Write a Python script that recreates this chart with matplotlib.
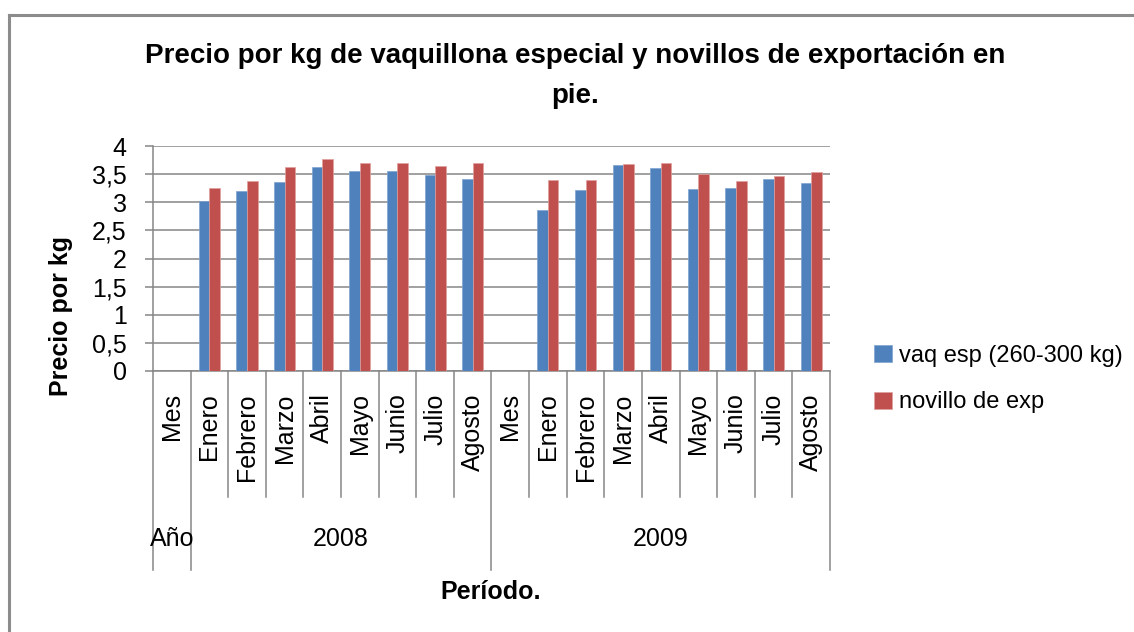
import numpy as np
import matplotlib
matplotlib.use("Agg")
from matplotlib import pyplot as plt
from matplotlib import rcParams
from matplotlib.lines import Line2D
import matplotlib.transforms as mtransforms

# data
meses = ["Mes", "Enero", "Febrero", "Marzo", "Abril", "Mayo", "Junio", "Julio", "Agosto",
         "Mes", "Enero", "Febrero", "Marzo", "Abril", "Mayo", "Junio", "Julio", "Agosto"]
anios = ["Año", "2008", "2009"]
anio_span = [(0, 0), (1, 8), (9, 17)]
vaq_esp = [np.nan, 3.02, 3.20, 3.36, 3.62, 3.55, 3.55, 3.49, 3.41,
           np.nan, 2.86, 3.21, 3.67, 3.61, 3.24, 3.26, 3.42, 3.34]
novillo = [np.nan, 3.26, 3.37, 3.62, 3.77, 3.69, 3.69, 3.64, 3.69,
           np.nan, 3.40, 3.40, 3.68, 3.70, 3.51, 3.38, 3.46, 3.54]
yticks = [0, 0.5, 1, 1.5, 2, 2.5, 3, 3.5, 4]

rcParams["font.family"] = ["Liberation Sans", "DejaVu Sans"]
rcParams["font.size"] = 16

grey = "#868686"
blue = "#4F81BD"
red = "#C0504D"

fig = plt.figure(figsize=(11.34, 6.32), dpi=100)
ax = fig.add_axes([153 / 1134, 1 - 371 / 632, 677 / 1134, 225 / 632])

x = np.arange(len(meses))
w = 0.28
ax.bar(x - w / 2, vaq_esp, width=w, color=blue, edgecolor="#7fa3d0", linewidth=0.5,
       label="vaq esp (260-300 kg)", zorder=3)
ax.bar(x + w / 2, novillo, width=w, color=red, edgecolor="#e0a09e", linewidth=0.5,
       label="novillo de exp", zorder=3)

ax.set_xlim(-0.5, len(meses) - 0.5)
ax.set_ylim(0, 4)
ax.set_yticks(yticks)
ax.set_yticklabels([f"{t:g}".replace(".", ",") for t in yticks])
ax.yaxis.grid(True, color=grey, linewidth=1.1, zorder=0)
ax.tick_params(axis="y", length=6, width=1.1, color=grey, pad=13, labelsize=18)
for s in ["top", "right"]:
    ax.spines[s].set_visible(False)
for s in ["left", "bottom"]:
    ax.spines[s].set_color(grey)
    ax.spines[s].set_linewidth(1.1)

ax.set_xticks(x)
ax.set_xticklabels(meses, rotation=90, va="top", ha="center", fontsize=18)
ax.tick_params(axis="x", length=0, pad=16)

# separators of the hierarchical category axis
trans = mtransforms.blended_transform_factory(ax.transData, ax.transAxes)
long_seps = [-0.5, 0.5, 8.5, 17.5]
for b in np.arange(-0.5, len(meses), 1.0):
    yb = -0.885 if b in long_seps else -0.56
    ax.add_line(Line2D([b, b], [0, yb], transform=trans, color=grey,
                       linewidth=1.1, clip_on=False))

for lab, (a, b) in zip(anios, anio_span):
    ax.text((a + b) / 2, -0.745, lab, transform=trans, ha="center", va="center",
            fontsize=18)

ax.set_ylabel("Precio por kg", fontsize=18, fontweight="bold")
ax.yaxis.set_label_coords(73 / 1134, 0.5, transform=fig.transFigure)
fig.text(491 / 1134, 1 - 592 / 632, "Período.", ha="center", va="center",
         fontsize=18, fontweight="bold")
fig.text(575 / 1134, 1 - 76 / 632,
         "Precio por kg de vaquillona especial y novillos de exportación en\npie.",
         ha="center", va="center", fontsize=20, fontweight="bold", linespacing=1.7)

ax.legend(loc="center left", bbox_to_anchor=(853 / 1134, 1 - 379 / 632),
          bbox_transform=fig.transFigure, frameon=False, fontsize=17,
          handlelength=0.75, handleheight=0.75, handletextpad=0.3, labelspacing=1.05)

# outer chart border (cut off at right and bottom)
fig.add_artist(Line2D([9 / 1134, 9 / 1134], [0, 1 - 15 / 632], transform=fig.transFigure,
                      color="#8c8c8c", linewidth=2.2))
fig.add_artist(Line2D([9 / 1134, 1], [1 - 15 / 632, 1 - 15 / 632], transform=fig.transFigure,
                      color="#8c8c8c", linewidth=2.2))

fig.savefig("out.png", dpi=100)
